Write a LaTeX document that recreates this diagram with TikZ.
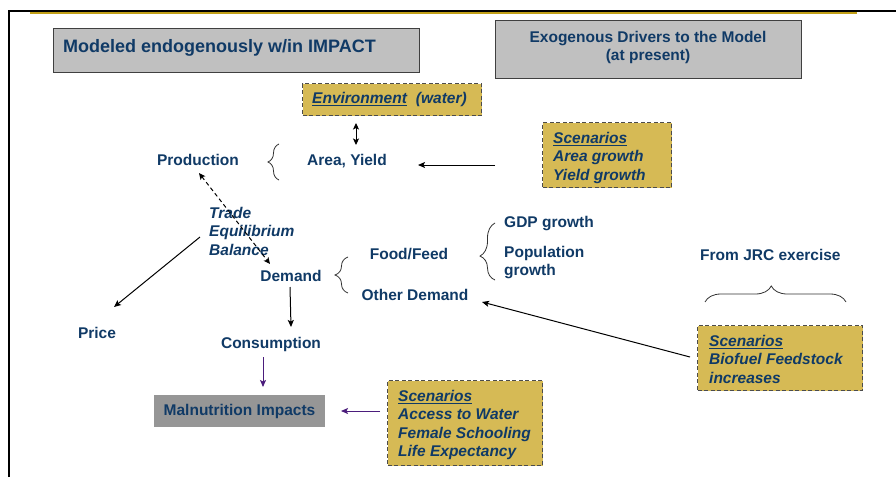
\documentclass[tikz,border=0pt]{standalone}
\usepackage{fontspec}
\setmainfont{Liberation Sans}
\usetikzlibrary{arrows.meta,decorations.pathreplacing}
\definecolor{txtblue}{HTML}{103A66}
\definecolor{goldfill}{HTML}{D6BA55}
\definecolor{goldline}{HTML}{C2A017}
\definecolor{hdrgray}{HTML}{C0C0C0}
\definecolor{malgray}{HTML}{969696}
\definecolor{purp}{HTML}{4B1D7C}
\newcommand{\myul}[1]{\setbox0\hbox{#1}\rlap{\vrule width \wd0 height -1.8pt depth 3.2pt}\box0}
\begin{document}
\begin{tikzpicture}[x=1pt,y=-1pt,
  every node/.style={text=txtblue, font=\fontsize{15.5}{18.6}\selectfont\bfseries},
  it/.style={font=\fontsize{15.5}{18.6}\selectfont\bfseries\itshape},
  lbl/.style={inner sep=0pt, anchor=base},
  lblw/.style={inner sep=0pt, anchor=base west},
  blk/.style={inner sep=0pt, anchor=north west, align=left},
  scenbox/.style={draw=black!70, dash pattern=on 4pt off 2.5pt, line width=1.1pt, fill=goldfill, inner sep=0pt, anchor=north west},
  hdrbox/.style={draw=black!75, line width=1.1pt, fill=hdrgray, inner sep=0pt, anchor=north west},
  arr/.style={-{Stealth[length=7pt,width=6pt,inset=1.5pt]}, line width=1pt, black},
  dblarr/.style={{Stealth[length=6.5pt,width=6pt,inset=1.5pt]}-{Stealth[length=6.5pt,width=6pt,inset=1.5pt]}, line width=1pt, black},
  parr/.style={-{Stealth[length=7pt,width=6pt,inset=1.5pt]}, line width=1pt, purp},
  brc/.style={decorate, line width=0.8pt, black!80},
]
\useasboundingbox (0,0) rectangle (896,477);
\fill[white] (0,0) rectangle (896,477);
% frame
\draw[line width=2pt] (9,477) -- (9,11) -- (896,11);
\draw[goldline, line width=2pt] (30,13) -- (857,13);

% headers
\node[hdrbox, minimum width=366pt, minimum height=44pt] (hdrA) at (53,28) {};
\node[lblw, font=\fontsize{18}{21}\selectfont\bfseries] (hdrAt) at (63,52) {Modeled endogenously w/in IMPACT};
\node[hdrbox, minimum width=306pt, minimum height=58pt] (hdrB) at (495,20) {};
\node[inner sep=0pt, anchor=north, align=center] (hdrBt) at (648,30.7) {Exogenous Drivers to the Model\\(at present)};

% scenario boxes
\node[scenbox, minimum width=179pt, minimum height=32pt] (env) at (302,83) {};
\node[lblw, it] (envt) at (312,103) {\myul{Environment}\hspace{9pt}(water)};
\node[scenbox, minimum width=129pt, minimum height=65pt] (scA) at (542,122) {};
\node[blk, it] (scAt) at (553,131.7) {\myul{Scenarios}\\Area growth\\Yield growth};
\node[scenbox, minimum width=165pt, minimum height=65pt] (scD) at (697,325) {};
\node[blk, it] (scDt) at (709,334.7) {\myul{Scenarios}\\Biofuel Feedstock\\increases};
\node[scenbox, minimum width=155pt, minimum height=85pt] (scC) at (387,380) {};
\node[blk, it] (scCt) at (398,389.7) {\myul{Scenarios}\\Access to Water\\Female Schooling\\Life Expectancy};

% labels
\node[lbl] (prod) at (198,165.5) {Production};
\node[lbl] (ay) at (347,165.5) {Area, Yield};
\node[blk, it] (teb) at (209,206.7) {Trade\\Equilibrium\\Balance};
\node[lbl] (dem) at (291,281) {Demand};
\node[lbl] (ff) at (409,259) {Food/Feed};
\node[lbl] (od) at (415,300) {Other Demand};
\node[lblw] (gdp) at (504,227) {GDP growth};
\node[blk] (pop) at (504,245.7) {Population\\growth};
\node[lblw] (jrc) at (700,260) {From JRC exercise};
\node[lbl] (price) at (97,338) {Price};
\node[lbl] (cons) at (271,348) {Consumption};
\node[fill=malgray, minimum width=171pt, minimum height=32pt, inner sep=0pt] (mal) at (239.5,411) {Malnutrition Impacts};

% connector end points
\coordinate (envS) at (356,123);
\coordinate (ayN) at (356,145);
\coordinate (scAW) at (495,165);
\coordinate (ayE) at (418,165);
\coordinate (prodS) at (199,173);
\coordinate (demN) at (270,264);
\coordinate (tebW) at (200,237);
\coordinate (priceN) at (114,307);
\coordinate (demS) at (290,287);
\coordinate (consN) at (291,327);
\coordinate (consS) at (263,357);
\coordinate (malN) at (263,387);
\coordinate (scCW) at (380,411);
\coordinate (malE) at (341,411);
\coordinate (scDW) at (690,357);
\coordinate (odE) at (482,302);

% connectors
\draw[dblarr] (envS) -- (ayN);
\draw[arr] (scAW) -- (ayE);
\draw[dblarr, dash pattern=on 4pt off 3pt] (prodS) -- (demN);
\draw[arr] (tebW) -- (priceN);
\draw[arr] (demS) -- (consN);
\draw[parr] (consS) -- (malN);
\draw[parr] (scCW) -- (malE);
\draw[arr] (scDW) -- (odE);

% braces
\draw[brc, decoration={brace, amplitude=11pt}] (279,180) -- (279,144);
\draw[brc, decoration={brace, amplitude=13pt}] (348,293) -- (348,257);
\draw[brc, decoration={brace, amplitude=15pt, aspect=0.42}] (495,280) -- (495,223);
\draw[brc, decoration={brace, amplitude=16pt, aspect=0.47}] (705,302) -- (846,302);
\end{tikzpicture}
\end{document}
